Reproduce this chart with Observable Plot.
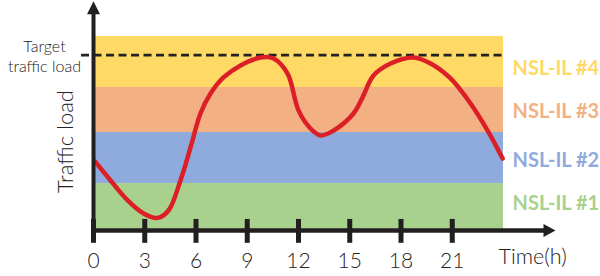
<!DOCTYPE html>
<html>
<head>
<meta charset="utf-8">
<script src="https://cdn.jsdelivr.net/npm/d3@7"></script>
<script src="https://cdn.jsdelivr.net/npm/@observablehq/plot@0.6"></script>
<style>
  html, body { margin: 0; padding: 0; background: #fff; }
  #chart svg { display: block; }
</style>
</head>
<body>
<div id="chart"></div>
<script>
// ---- data ----
const hours = [0.1, 1, 2, 2.93, 3.75, 4.39, 5.09, 5.68, 6.26, 6.85, 7.61, 8.61, 9.78, 10.54, 11.36, 12.0, 12.7, 13.29, 14.05, 15.22, 15.75, 16.39, 17.39, 18.74, 19.73, 20.9, 22.07, 23.07, 23.95];
const load  = [35.5, 25.8, 15.5, 8.8, 6.5, 10.3, 25.8, 42.8, 60.3, 70.6, 78.9, 85.1, 89.2, 88.7, 80.9, 61.9, 52.6, 49.0, 51.5, 60.3, 68.6, 79.9, 86.1, 89.2, 86.1, 78.4, 65.5, 51.5, 37.1];

const bandNames = ["NSL-IL #1", "NSL-IL #2", "NSL-IL #3", "NSL-IL #4"];
const bandLow   = [0, 24.2, 50.5, 73.7];
const bandHigh  = [24.2, 50.5, 73.7, 100];
const labelLoad = [13.9, 36.1, 61.1, 83.5];

const tickHours  = [0, 3, 6, 9, 12, 15, 18, 21];
const tickLabels = ["0", "3", "6", "9", "12", "15", "18", "21"];

const targetLoad = 90.4;
const xMax = 24;

// ---- styles ----
const bandColors = ["#A9D18E", "#8FAADC", "#F3B083", "#FED966"];
const axisColor = "#231F20";
const font = "Lato, 'Open Sans', sans-serif";

const curve = hours.map((h, i) => ({h, v: load[i]}));
const bands = bandNames.map((n, i) => ({name: n, lo: bandLow[i], hi: bandHigh[i], lab: labelLoad[i], color: bandColors[i]}));
const ticks = tickHours.map((h, i) => ({h, label: tickLabels[i]}));

const arrowUp = {draw(ctx) { ctx.moveTo(0, -12); ctx.lineTo(6.5, 1); ctx.lineTo(-6.5, 1); ctx.closePath(); }};
const arrowRight = {draw(ctx) { ctx.moveTo(11, 0); ctx.lineTo(-1, -6.5); ctx.lineTo(-1, 6.5); ctx.closePath(); }};

const chart = Plot.plot({
  width: 600,
  height: 276,
  marginLeft: 93,
  marginRight: 97,
  marginTop: 36,
  marginBottom: 46,
  x: {domain: [0, xMax], axis: null},
  y: {domain: [0, 100], axis: null},
  style: {fontFamily: font, background: "#fff"},
  marks: [
    Plot.rect(bands, {x1: 0, x2: xMax, y1: "lo", y2: "hi", fill: "color"}),
    Plot.ruleY([targetLoad], {x1: -0.7, x2: xMax + 0.1, stroke: "#222", strokeWidth: 2.6, strokeDasharray: "8,4.5"}),
    Plot.line(curve, {x: "h", y: "v", curve: "catmull-rom", stroke: "#DC1F26", strokeWidth: 4.5, strokeLinecap: "round"}),
    // axes
    Plot.ruleX([0], {y1: -2.4, y2: 112, stroke: axisColor, strokeWidth: 4}),
    Plot.ruleY([0], {x1: 0, x2: 26.4, stroke: axisColor, strokeWidth: 4.5}),
    Plot.dot([0], {x: 0, y: 112, symbol: arrowUp, r: 6, fill: axisColor, stroke: null}),
    Plot.dot([0], {x: 26.4, y: 0, symbol: arrowRight, r: 6, fill: axisColor, stroke: null}),
    Plot.ruleX(ticks, {x: "h", y1: -6.6, y2: 5.7, stroke: axisColor, strokeWidth: 5}),
    Plot.text(ticks, {x: "h", y: 0, text: "label", dy: 31, fontSize: 21, fontWeight: 300, fill: "#222", lineAnchor: "middle"}),
    Plot.text(["Time(h)"], {x: xMax, y: 0, text: d => d, textAnchor: "start", dx: -5, dy: 27, fontSize: 21.5, fontWeight: 300, fill: "#222", lineAnchor: "middle"}),
    Plot.text(["Traffic load"], {x: 0, y: 50, text: d => d, rotate: -90, dx: -28, dy: 8, fontSize: 22, fontWeight: 300, fill: "#222", lineAnchor: "middle"}),
    Plot.text(["Target\ntraffic load"], {x: 0, y: targetLoad, text: d => d, dx: -49, dy: 0, fontSize: 16, fontWeight: 300, lineHeight: 1.25, fill: "#222", lineAnchor: "middle"}),
    Plot.text(bands, {x: xMax, y: "lab", text: "name", textAnchor: "start", dx: 9, fontSize: 20, fontWeight: "bold", fill: "color", lineAnchor: "middle"})
  ]
});
document.getElementById("chart").appendChild(chart);
</script>
</body>
</html>
